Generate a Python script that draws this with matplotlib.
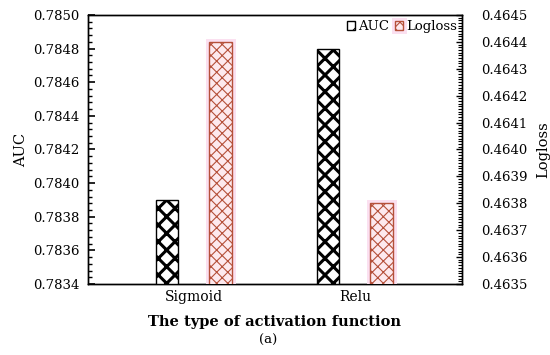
import matplotlib
matplotlib.use("Agg")
import matplotlib.pyplot as plt
import matplotlib.patheffects as pe
from matplotlib.ticker import MultipleLocator, FormatStrFormatter

categories = ["Sigmoid", "Relu"]
auc = [0.7839, 0.7848]
logloss = [0.46440, 0.46380]

plt.rcParams['font.family'] = ['DejaVu Serif']
plt.rcParams['font.size'] = 9

fig = plt.figure(figsize=(5.5, 3.55), dpi=100)
ax = fig.add_axes([0.16, 0.2, 0.68, 0.758])
ax2 = ax.twinx()

x = list(range(len(categories)))
w = 0.137
off = 0.165

plt.rcParams['hatch.linewidth'] = 2.2
plt.rcParams['hatch.color'] = 'black'
b1 = ax.bar([i - off for i in x], auc, width=w, color='white', edgecolor='black',
            hatch='xx', linewidth=1.0, label='AUC', zorder=3)
for p in b1:
    if hasattr(p, 'set_hatch_linewidth'):
        p.set_hatch_linewidth(2.2)

plt.rcParams['hatch.linewidth'] = 0.8
b2 = ax2.bar([i + off for i in x], logloss, width=w, color='#fde9ee', edgecolor='#b5503a',
             hatch='xxx', linewidth=1.0, label='Logloss', zorder=3)
for p in b2:
    if hasattr(p, 'set_hatch_linewidth'):
        p.set_hatch_linewidth(0.8)
    p.set_path_effects([pe.Stroke(linewidth=5, foreground='#fbe0f0'), pe.Normal()])

ax.set_ylim(0.7834, 0.7850)
ax2.set_ylim(0.4635, 0.4645)
ax.set_xlim(-0.658, 1.665)
ax.set_xticks(x)
ax.set_xticklabels(categories, fontsize=10)
ax.tick_params(axis='x', length=0, pad=4)

ax.yaxis.set_major_locator(MultipleLocator(0.0002))
ax.yaxis.set_minor_locator(MultipleLocator(0.00004))
ax.yaxis.set_major_formatter(FormatStrFormatter('%.4f'))
ax.tick_params(axis='y', which='major', direction='in', length=5, width=1.2, pad=6, labelsize=9.5)
ax.tick_params(axis='y', which='minor', direction='in', length=3, width=1.0)

ax2.yaxis.set_major_locator(MultipleLocator(0.0001))
ax2.yaxis.set_minor_locator(MultipleLocator(0.00001))
ax2.yaxis.set_major_formatter(FormatStrFormatter('%.4f'))
ax2.tick_params(axis='y', which='major', direction='in', length=4, width=1.0, pad=14, labelsize=9.5)
ax2.tick_params(axis='y', which='minor', direction='in', length=3, width=0.8)

for a in (ax, ax2):
    for s in a.spines.values():
        s.set_linewidth(1.0)

ax.set_ylabel('AUC', fontsize=10.5, labelpad=4)
ax2.set_ylabel('Logloss', fontsize=10.5, labelpad=6)
ax.set_xlabel('The type of activation function', fontsize=10.5, fontweight='bold', labelpad=8)
fig.text(0.487, 0.04, '(a)', ha='center', va='center', fontsize=9.5)

h1, l1 = ax.get_legend_handles_labels()
h2, l2 = ax2.get_legend_handles_labels()
ax2.legend(h1 + h2, l1 + l2, loc='upper right', frameon=False, ncol=2,
           handlelength=0.6, handleheight=0.6, handletextpad=0.2, columnspacing=0.5,
           borderaxespad=0.1, borderpad=0.3, fontsize=9.5)

fig.savefig('out.png', dpi=100)
